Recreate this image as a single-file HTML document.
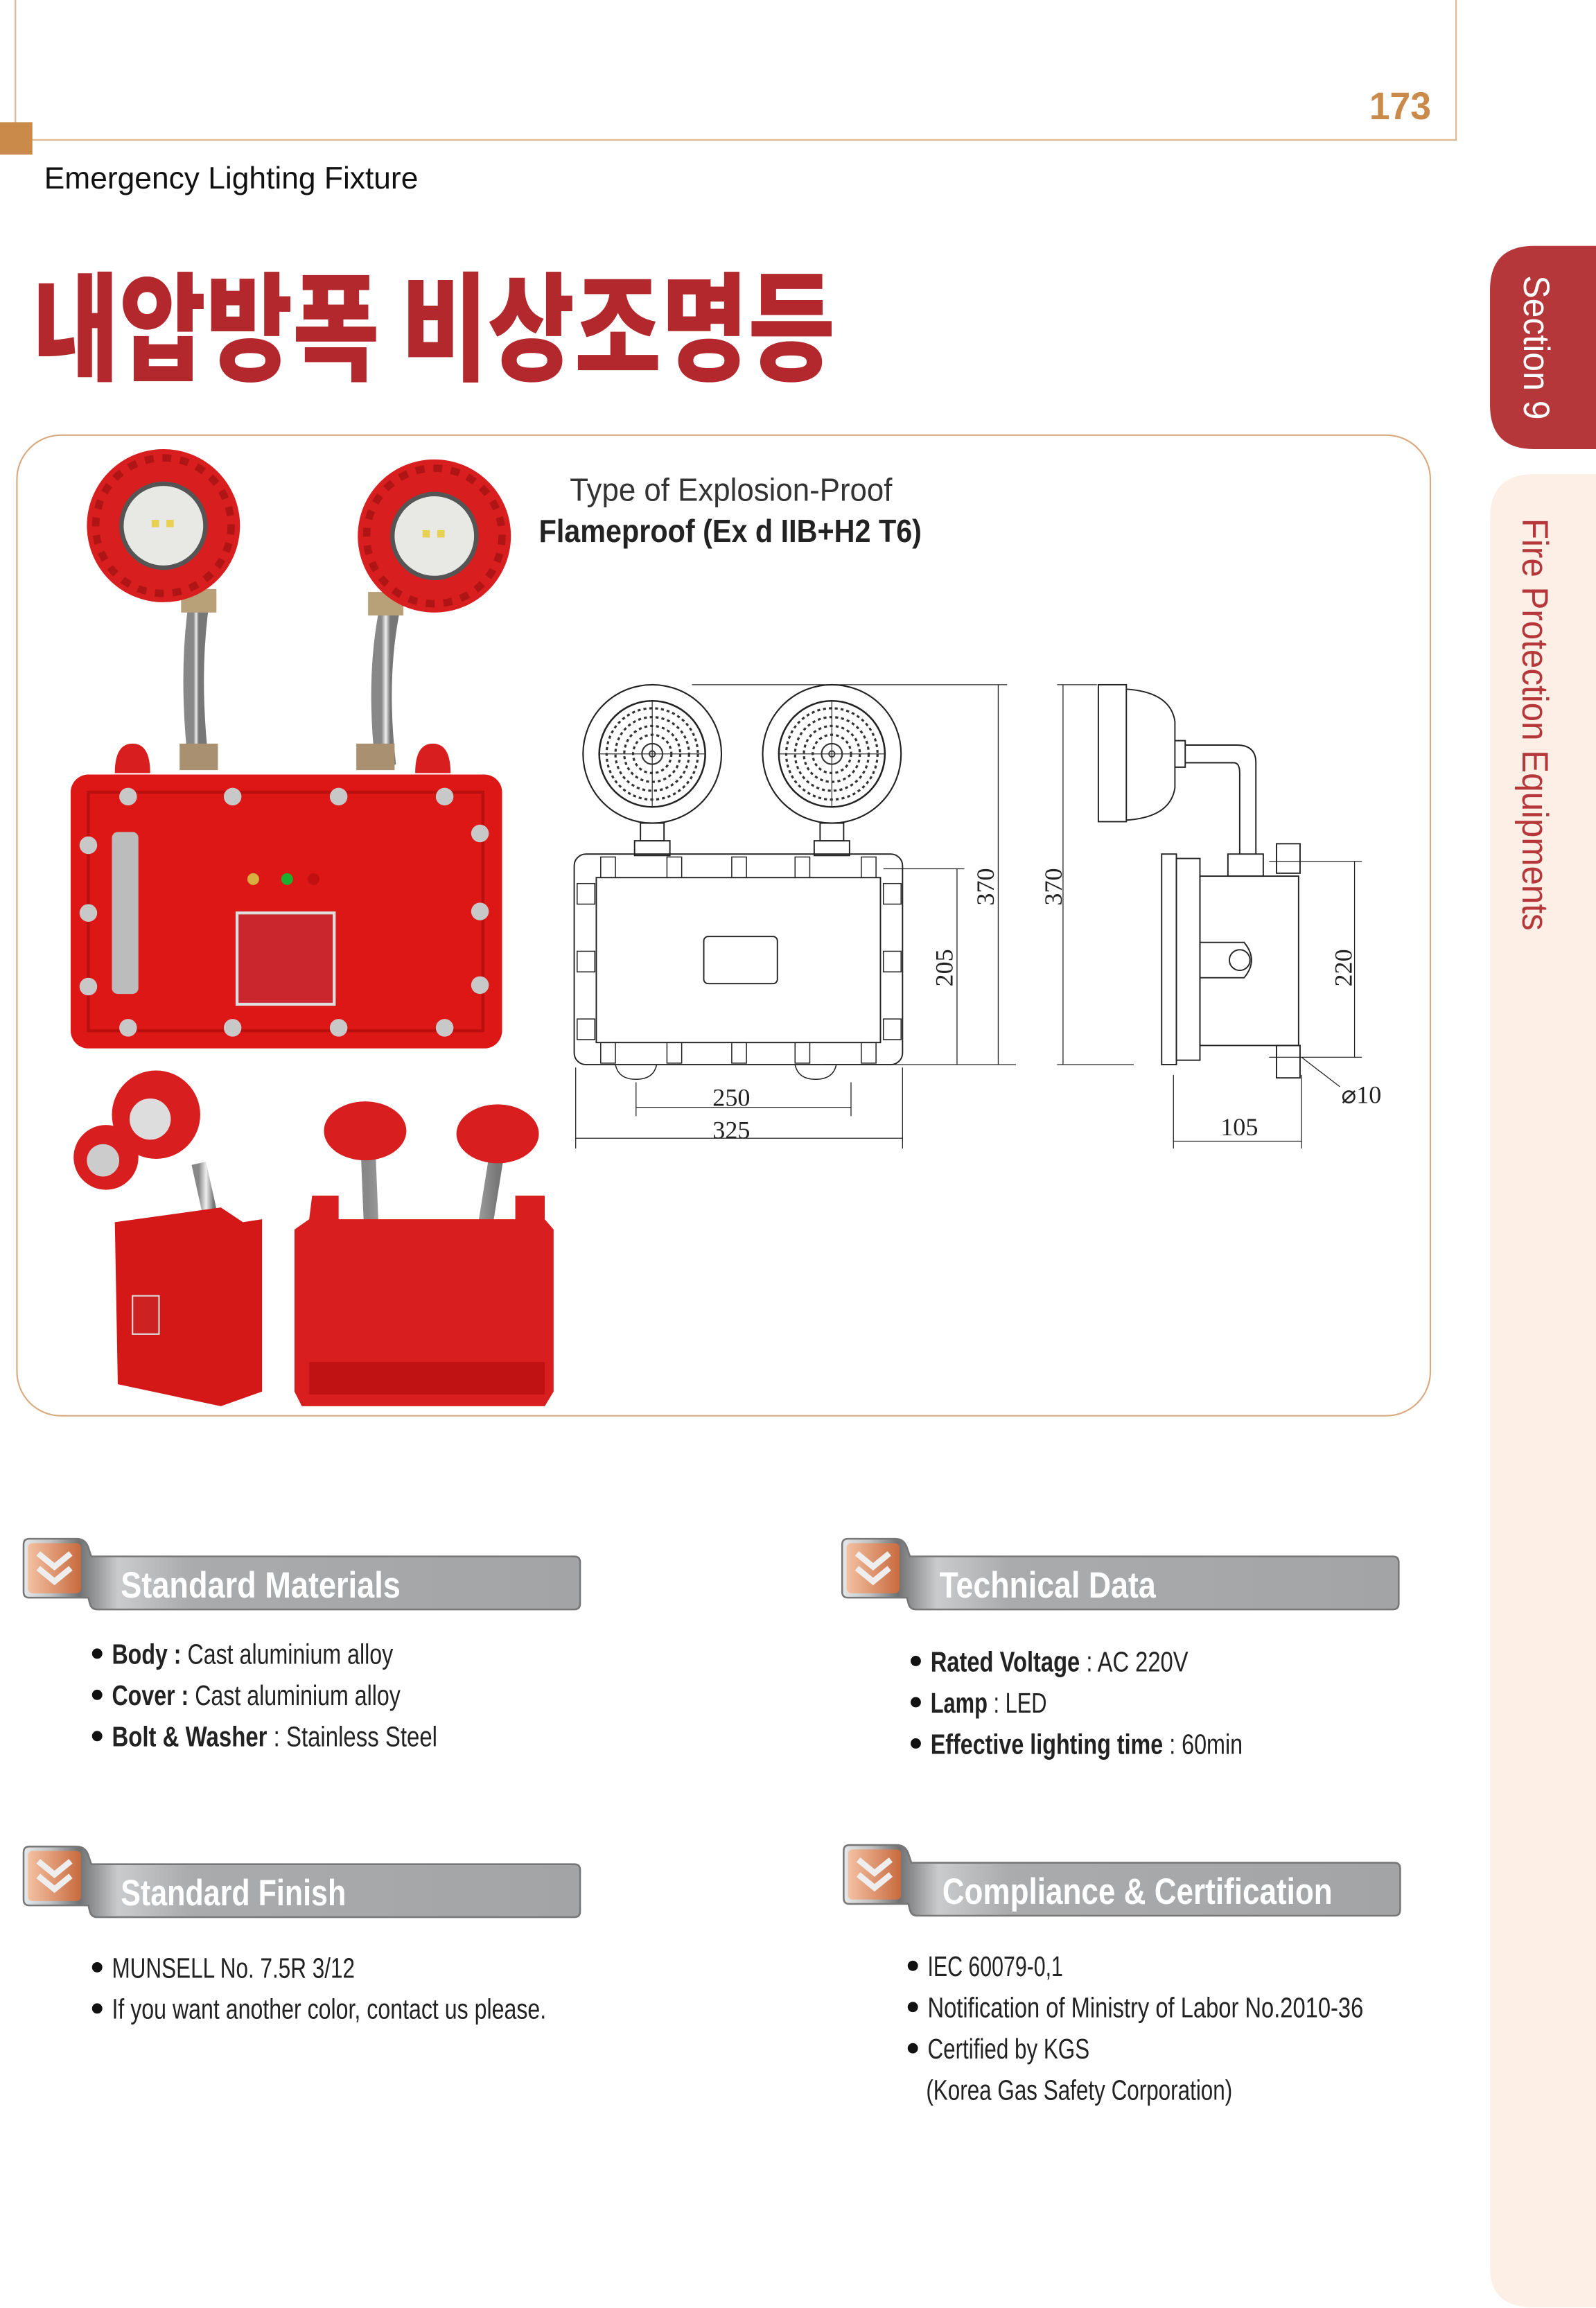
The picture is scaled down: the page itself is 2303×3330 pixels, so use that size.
<!DOCTYPE html>
<html><head><meta charset="utf-8"><style>
html,body{margin:0;padding:0;background:#fff;width:2303px;height:3330px;overflow:hidden}
svg{display:block}
.n{font-family:"Liberation Sans Narrow","Liberation Sans",sans-serif}
.d{font-family:"Liberation Serif",serif;font-size:17px;fill:#222}
</style></head><body>
<svg width="2303" height="3330" viewBox="0 0 1084 1567.4" xmlns="http://www.w3.org/2000/svg">
<defs>
<linearGradient id="bar" x1="0" x2="1" y1="0" y2="0">
<stop offset="0" stop-color="#e6e8ea"/><stop offset="0.05" stop-color="#bfc1c3"/><stop offset="0.1" stop-color="#6f7173"/><stop offset="0.17" stop-color="#c9cbcc"/><stop offset="0.3" stop-color="#a9abad"/><stop offset="1" stop-color="#a2a4a6"/>
</linearGradient>
<linearGradient id="ic" x1="0" x2="1"><stop offset="0" stop-color="#f3c1a2"/><stop offset="1" stop-color="#c86a3e"/></linearGradient>
<linearGradient id="pipe" x1="0" x2="1"><stop offset="0" stop-color="#888"/><stop offset="0.5" stop-color="#eee"/><stop offset="1" stop-color="#777"/></linearGradient>
<g id="hdr">
<path d="M4,0 H36 Q42,0 44,6 L46,12 H374 Q378,12 378,16 V44 Q378,48 374,48 H50 Q46,48 45,44 L44,40 H4 Q0,40 0,36 V4 Q0,0 4,0Z" fill="url(#bar)" stroke="#777" stroke-width="1.2"/>
<rect x="3" y="3" width="36" height="34" rx="3" fill="url(#ic)"/>
<path d="M10,10 L21,19 L32,10 M10,20 L21,29 L32,20" fill="none" stroke="#eee" stroke-width="4"/>
</g>
<g id="head"><circle r="52" fill="#d81e1e"/><circle r="46" fill="none" stroke="#b01515" stroke-width="5" stroke-dasharray="6 6"/><circle r="30" fill="#555"/><circle r="27" fill="#e8e8e4"/><rect x="-8" y="-4" width="5" height="5" fill="#e8d050"/><rect x="2" y="-4" width="5" height="5" fill="#e8d050"/></g>
<g id="lamp"><circle r="47" fill="none" stroke="#222" stroke-width="1"/><circle r="36" fill="none" stroke="#222" stroke-width="1.2"/><circle r="31" fill="none" stroke="#333" stroke-width="1.5" stroke-dasharray="2 2"/><circle r="25" fill="none" stroke="#333" stroke-width="1.5" stroke-dasharray="2 2"/><circle r="19" fill="none" stroke="#333" stroke-width="1.5" stroke-dasharray="2 2"/><circle r="13" fill="none" stroke="#333" stroke-width="1.5" stroke-dasharray="2 2"/><circle r="7" fill="none" stroke="#333" stroke-width="1"/><circle r="2" fill="none" stroke="#333"/><path d="M0,-36 V36 M-36,0 H36" stroke="#333" stroke-width="0.6"/></g>
</defs>

<!-- top frame -->
<path d="M10.5,0 V95 H989 V0" fill="none" stroke="#dcb78e" stroke-width="1"/>
<rect x="0" y="83" width="22" height="22" fill="#c98a4a"/>
<text x="930" y="81" font-family="Liberation Sans" font-weight="bold" font-size="26" fill="#c98a4a" textLength="42" lengthAdjust="spacingAndGlyphs">173</text>
<text x="30" y="128" font-family="Liberation Sans" font-size="21" fill="#111" textLength="254" lengthAdjust="spacingAndGlyphs">Emergency Lighting Fixture</text>
<text x="22" y="252" font-family="'Noto Sans CJK KR',sans-serif" font-weight="900" font-size="80" fill="#b3282d" textLength="545" lengthAdjust="spacingAndGlyphs">내압방폭 비상조명등</text>

<!-- right tabs -->
<path d="M1084,167 H1042 Q1012,167 1012,197 V275 Q1012,305 1042,305 H1084Z" fill="#b5373a"/>
<text transform="translate(1035,187) rotate(90)" class="n" font-size="25" fill="#fff" textLength="98" lengthAdjust="spacingAndGlyphs">Section 9</text>
<path d="M1084,322 H1042 Q1012,322 1012,352 V1540 Q1012,1567 1042,1567 H1084Z" fill="#fdeee6"/>
<text transform="translate(1034,352) rotate(90)" class="n" font-size="25" fill="#b5373a" textLength="280" lengthAdjust="spacingAndGlyphs">Fire Protection Equipments</text>

<!-- main box -->
<rect x="11.5" y="295.5" width="960" height="666" rx="30" fill="#fff" stroke="#d9a97f" stroke-width="1"/>

<!-- photo 1 -->
<g>
<path d="M135,410 Q128,460 135,520" stroke="url(#pipe)" stroke-width="14" fill="none"/>
<path d="M265,412 Q255,460 262,520" stroke="url(#pipe)" stroke-width="14" fill="none"/>
<rect x="122" y="505" width="26" height="18" fill="#a89070"/><rect x="242" y="505" width="26" height="18" fill="#a89070"/>
<rect x="123" y="400" width="24" height="16" fill="#b8a078"/><rect x="250" y="402" width="24" height="16" fill="#b8a078"/>
<path d="M78,525 Q78,505 90,505 Q102,505 102,525Z M282,525 Q282,505 294,505 Q306,505 306,525Z" fill="#d81e1e"/>
<use href="#head" x="111" y="357"/>
<use href="#head" x="295" y="364"/>
<rect x="48" y="526" width="293" height="186" rx="12" fill="#dd1616"/>
<rect x="60" y="538" width="268" height="162" fill="none" stroke="#b80f0f" stroke-width="2"/>
<rect x="76" y="565" width="18" height="110" rx="4" fill="#bcbcbc"/>
<rect x="161" y="620" width="66" height="62" fill="#c9262d" stroke="#ddd" stroke-width="2"/>
<circle cx="172" cy="597" r="4" fill="#d8b040"/><circle cx="195" cy="597" r="4" fill="#1db030"/><circle cx="213" cy="597" r="4" fill="#c01010"/>
<g fill="#c8c8c8"><circle cx="87" cy="541" r="6"/><circle cx="158" cy="541" r="6"/><circle cx="230" cy="541" r="6"/><circle cx="302" cy="541" r="6"/><circle cx="87" cy="698" r="6"/><circle cx="158" cy="698" r="6"/><circle cx="230" cy="698" r="6"/><circle cx="302" cy="698" r="6"/><circle cx="60" cy="574" r="6"/><circle cx="60" cy="620" r="6"/><circle cx="60" cy="670" r="6"/><circle cx="326" cy="566" r="6"/><circle cx="326" cy="619" r="6"/><circle cx="326" cy="669" r="6"/></g>
</g>
<!-- photo 2 -->
<g>
<path d="M135,790 L145,835" stroke="url(#pipe)" stroke-width="10"/>
<circle cx="106" cy="757" r="30" fill="#d81e1e"/><circle cx="102" cy="760" r="14" fill="#ddd"/>
<circle cx="72" cy="786" r="22" fill="#d81e1e"/><circle cx="70" cy="788" r="11" fill="#ccc"/>
<path d="M78,830 L150,820 L165,830 L178,828 L178,945 L150,955 L80,940Z" fill="#d41818"/>
<rect x="90" y="880" width="18" height="26" fill="#c22" stroke="#ddd"/>
</g>
<!-- photo 3 -->
<g>
<path d="M250,780 L252,830 M338,780 L330,830" stroke="url(#pipe)" stroke-width="10"/>
<ellipse cx="248" cy="768" rx="28" ry="20" fill="#d81e1e"/><ellipse cx="338" cy="770" rx="28" ry="20" fill="#d81e1e"/>
<path d="M212,812 H230 V828 H350 V812 H370 V828 L376,835 V945 L370,955 H205 L200,945 V835 L210,828Z" fill="#d81e1e"/>
<rect x="210" y="925" width="160" height="22" fill="#c01212"/>
</g>

<text x="387" y="340" class="n" font-size="22" fill="#333" textLength="219" lengthAdjust="spacingAndGlyphs">Type of Explosion-Proof</text>
<text x="366" y="368" class="n" font-size="22" font-weight="bold" fill="#222" textLength="260" lengthAdjust="spacingAndGlyphs">Flameproof (Ex d IIB+H2 T6)</text>

<!-- technical drawing -->
<g fill="none" stroke="#222" stroke-width="0.9">
<use href="#lamp" x="443" y="512"/><use href="#lamp" x="565" y="512"/>
<rect x="435" y="559" width="16" height="12"/><rect x="557" y="559" width="16" height="12"/>
<rect x="431" y="571" width="24" height="10"/><rect x="553" y="571" width="24" height="10"/>
<rect x="390" y="580" width="223" height="143" rx="8"/>
<rect x="405" y="596" width="193" height="112"/>
<rect x="478" y="636" width="50" height="32" rx="3"/>
<g stroke-width="0.7"><rect x="408" y="582" width="10" height="14"/><rect x="453" y="582" width="10" height="14"/><rect x="497" y="582" width="10" height="14"/><rect x="540" y="582" width="10" height="14"/><rect x="585" y="582" width="10" height="14"/>
<rect x="408" y="708" width="10" height="14"/><rect x="453" y="708" width="10" height="14"/><rect x="497" y="708" width="10" height="14"/><rect x="540" y="708" width="10" height="14"/><rect x="585" y="708" width="10" height="14"/>
<rect x="392" y="600" width="12" height="14"/><rect x="392" y="646" width="12" height="14"/><rect x="392" y="692" width="12" height="14"/><rect x="600" y="600" width="12" height="14"/><rect x="600" y="646" width="12" height="14"/><rect x="600" y="692" width="12" height="14"/></g>
<path d="M418,723 Q420,733 432,733 Q444,733 446,723 M540,723 Q542,733 554,733 Q566,733 568,723" stroke-width="0.7"/>
<!-- dims -->
<path d="M470,465 H684 M560,723 H690 M600,590 H655 M678,465 V723 M650,590 V723" stroke-width="0.6"/>
<path d="M432,735 V758 M578,735 V758 M432,752 H578 M391,725 V780 M613,725 V780 M391,773 H613" stroke-width="0.6"/>
<!-- side view -->
<path d="M718,465 H745 M718,723 H770 M722,465 V723" stroke-width="0.6"/>
<rect x="746" y="465" width="19" height="93"/>
<path d="M765,468 Q795,470 798,490 V535 Q795,555 765,557"/>
<path d="M798,503 H805 V521 H798 M805,506 H840 Q853,506 853,518 V580 M805,518 H838 Q842,518 842,525 V580"/>
<rect x="834" y="580" width="24" height="15"/>
<rect x="789" y="580" width="10" height="143"/><rect x="799" y="583" width="16" height="137"/>
<rect x="815" y="595" width="67" height="115"/>
<path d="M815,640 H845 Q855,652 845,664 H815"/><circle cx="842" cy="652" r="7"/>
<rect x="867" y="573" width="16" height="20"/><rect x="867" y="710" width="16" height="22"/>
<path d="M862,585 H925 M862,718 H925 M920,585 V718 M884,718 L910,738 M797,730 V780 M884,730 V780 M797,775 H884" stroke-width="0.6"/>
</g>
<text transform="translate(675,615) rotate(-90)" class="d">370</text>
<text transform="translate(647,670) rotate(-90)" class="d">205</text>
<text transform="translate(721,615) rotate(-90)" class="d">370</text>
<text transform="translate(918,670) rotate(-90)" class="d">220</text>
<text x="484" y="751" class="d">250</text>
<text x="484" y="773" class="d">325</text>
<text x="829" y="771" class="d">105</text>
<text x="911" y="749" class="d">⌀10</text>

<!-- section headers -->
<use href="#hdr" x="16" y="1045"/>
<text x="82" y="1085" class="n" font-weight="bold" font-size="25" fill="#fff" textLength="190" lengthAdjust="spacingAndGlyphs">Standard Materials</text>
<use href="#hdr" x="572" y="1045"/>
<text x="638" y="1085" class="n" font-weight="bold" font-size="25" fill="#fff" textLength="147" lengthAdjust="spacingAndGlyphs">Technical Data</text>
<use href="#hdr" x="16" y="1254"/>
<text x="82" y="1294" class="n" font-weight="bold" font-size="25" fill="#fff" textLength="153" lengthAdjust="spacingAndGlyphs">Standard Finish</text>
<use href="#hdr" x="573" y="1253"/>
<text x="640" y="1293" class="n" font-weight="bold" font-size="25" fill="#fff" textLength="265" lengthAdjust="spacingAndGlyphs">Compliance &amp; Certification</text>

<g class="n" font-size="19" fill="#222">
<g fill="#111"><circle cx="66" cy="1123" r="3.5"/><circle cx="66" cy="1151" r="3.5"/><circle cx="66" cy="1179" r="3.5"/><circle cx="622" cy="1128" r="3.5"/><circle cx="622" cy="1156" r="3.5"/><circle cx="622" cy="1184" r="3.5"/><circle cx="66" cy="1336" r="3.5"/><circle cx="66" cy="1364" r="3.5"/><circle cx="620" cy="1335" r="3.5"/><circle cx="620" cy="1363" r="3.5"/><circle cx="620" cy="1391" r="3.5"/></g>
<text x="76" y="1130" textLength="191" lengthAdjust="spacingAndGlyphs"><tspan font-weight="bold">Body :</tspan> Cast aluminium alloy</text>
<text x="76" y="1158" textLength="196" lengthAdjust="spacingAndGlyphs"><tspan font-weight="bold">Cover :</tspan> Cast aluminium alloy</text>
<text x="76" y="1186" textLength="221" lengthAdjust="spacingAndGlyphs"><tspan font-weight="bold">Bolt &amp; Washer</tspan> : Stainless Steel</text>
<text x="632" y="1135" textLength="175" lengthAdjust="spacingAndGlyphs"><tspan font-weight="bold">Rated Voltage</tspan> : AC 220V</text>
<text x="632" y="1163" textLength="79" lengthAdjust="spacingAndGlyphs"><tspan font-weight="bold">Lamp</tspan> : LED</text>
<text x="632" y="1191" textLength="212" lengthAdjust="spacingAndGlyphs"><tspan font-weight="bold">Effective lighting time</tspan> : 60min</text>
<text x="76" y="1343" textLength="165" lengthAdjust="spacingAndGlyphs">MUNSELL No. 7.5R 3/12</text>
<text x="76" y="1371" textLength="295" lengthAdjust="spacingAndGlyphs">If you want another color, contact us please.</text>
<text x="630" y="1342" textLength="92" lengthAdjust="spacingAndGlyphs">IEC 60079-0,1</text>
<text x="630" y="1370" textLength="296" lengthAdjust="spacingAndGlyphs">Notification of Ministry of Labor No.2010-36</text>
<text x="630" y="1398" textLength="110" lengthAdjust="spacingAndGlyphs">Certified by KGS</text>
<text x="629" y="1426" textLength="208" lengthAdjust="spacingAndGlyphs">(Korea Gas Safety Corporation)</text>
</g>
</svg>
</body></html>
